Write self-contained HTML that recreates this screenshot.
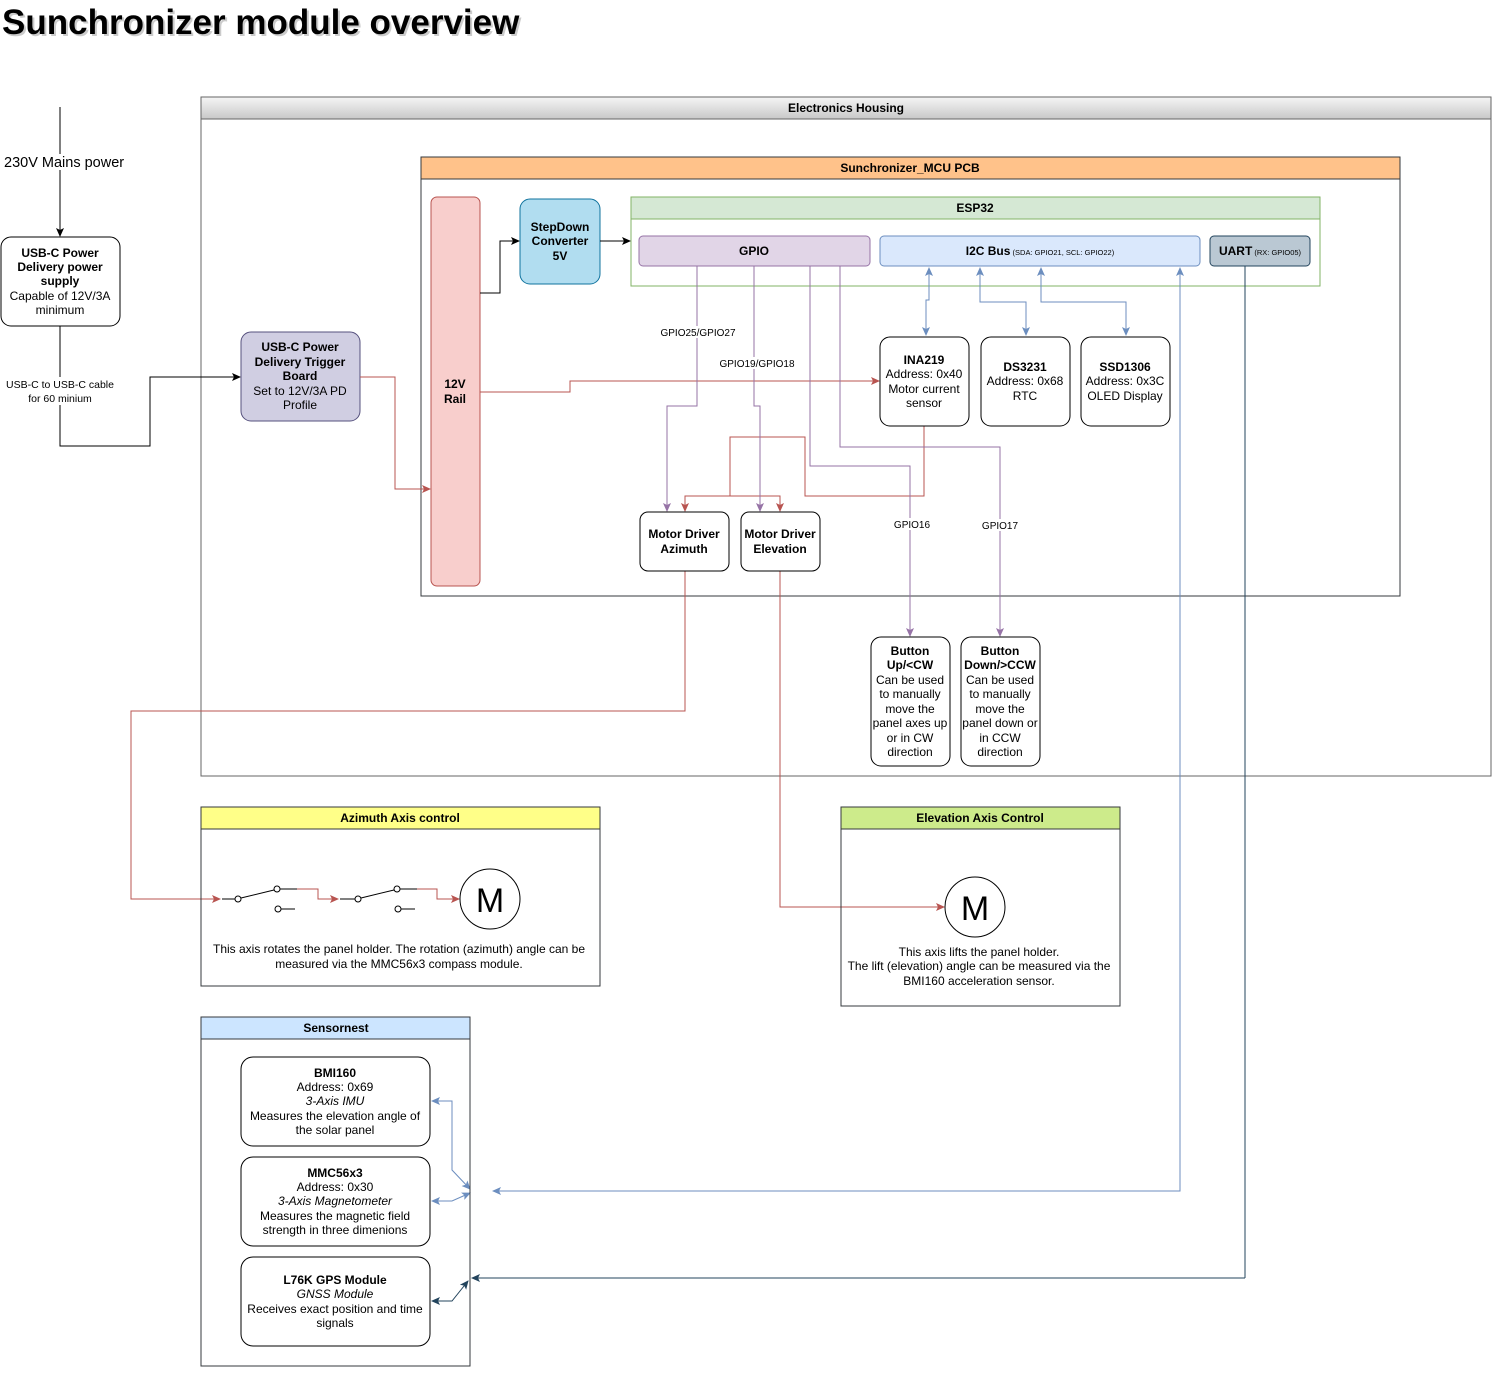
<!DOCTYPE html>
<html><head><meta charset="utf-8"><style>
html,body{margin:0;padding:0;background:#fff}
svg{display:block;font-family:"Liberation Sans",sans-serif}
</style></head><body>
<svg width="1504" height="1378" viewBox="0 0 1504 1378" xmlns="http://www.w3.org/2000/svg">
<defs>
<marker id="ak" markerWidth="10" markerHeight="10" refX="8" refY="5" orient="auto" markerUnits="userSpaceOnUse"><path d="M0,1 L9,5 L0,9 L2,5z" fill="#000"/></marker>
<marker id="ar" markerWidth="10" markerHeight="10" refX="8" refY="5" orient="auto" markerUnits="userSpaceOnUse"><path d="M0,1 L9,5 L0,9 L2,5z" fill="#b85450"/></marker>
<marker id="ap" markerWidth="10" markerHeight="10" refX="8" refY="5" orient="auto" markerUnits="userSpaceOnUse"><path d="M0,1 L9,5 L0,9 L2,5z" fill="#9673a6"/></marker>
<marker id="ab" markerWidth="10" markerHeight="10" refX="8" refY="5" orient="auto-start-reverse" markerUnits="userSpaceOnUse"><path d="M0,1 L9,5 L0,9 L2,5z" fill="#6c8ebf"/></marker>
<marker id="ad" markerWidth="10" markerHeight="10" refX="8" refY="5" orient="auto-start-reverse" markerUnits="userSpaceOnUse"><path d="M0,1 L9,5 L0,9 L2,5z" fill="#23445d"/></marker>
<linearGradient id="gh" x1="0" y1="0" x2="0" y2="1"><stop offset="0" stop-color="#f5f5f5"/><stop offset="1" stop-color="#c8c8c8"/></linearGradient>
</defs>

<text x="4" y="36" font-size="35" font-weight="bold" fill="#999" opacity="0.5">Sunchronizer module overview</text>
<text x="2" y="34" font-size="35" font-weight="bold" fill="#000">Sunchronizer module overview</text>

<!-- Electronics Housing -->
<rect x="201" y="97" width="1290" height="679" fill="#fff" stroke="#666"/>
<rect x="201" y="97" width="1290" height="22" fill="url(#gh)" stroke="#666"/>
<text x="846" y="112" font-size="12" font-weight="bold" text-anchor="middle">Electronics Housing</text>

<!-- MCU PCB -->
<rect x="421" y="157" width="979" height="439" fill="#fff" stroke="#36393d"/>
<rect x="421" y="157" width="979" height="22" fill="#ffc28a" stroke="#36393d"/>
<text x="910" y="172" font-size="12" font-weight="bold" text-anchor="middle">Sunchronizer_MCU PCB</text>

<!-- ESP32 -->
<rect x="631" y="197" width="689" height="89" fill="#fff" stroke="#82b366"/>
<rect x="631" y="197" width="689" height="22" fill="#d5e8d4" stroke="#82b366"/>
<text x="975" y="212" font-size="12" font-weight="bold" text-anchor="middle">ESP32</text>

<rect x="639" y="236" width="231" height="30" rx="4" fill="#e1d5e7" stroke="#9673a6"/>
<text x="754" y="255" font-size="12" font-weight="bold" text-anchor="middle">GPIO</text>
<rect x="880" y="236" width="320" height="30" rx="4" fill="#dae8fc" stroke="#6c8ebf"/>
<text x="1040" y="255" font-size="12" text-anchor="middle"><tspan font-weight="bold">I2C Bus</tspan><tspan font-size="7.5"> (SDA: GPIO21, SCL: GPIO22)</tspan></text>
<rect x="1210" y="236" width="100" height="30" rx="4" fill="#bac8d3" stroke="#23445d"/>
<text x="1260" y="255" font-size="12" text-anchor="middle"><tspan font-weight="bold">UART</tspan><tspan font-size="7.5"> (RX: GPIO05)</tspan></text>

<!-- 12V rail -->
<rect x="431" y="197" width="49" height="389" rx="6" fill="#f8cecc" stroke="#b85450"/>
<text x="455" y="388" font-size="12" font-weight="bold" text-anchor="middle">12V</text>
<text x="455" y="403" font-size="12" font-weight="bold" text-anchor="middle">Rail</text>

<!-- StepDown -->
<rect x="520" y="199" width="80" height="85" rx="10" fill="#b1ddf0" stroke="#10739e"/>
<text x="560" y="231" font-size="12" font-weight="bold" text-anchor="middle">StepDown</text>
<text x="560" y="245" font-size="12" font-weight="bold" text-anchor="middle">Converter</text>
<text x="560" y="260" font-size="12" font-weight="bold" text-anchor="middle">5V</text>

<!-- black wires -->
<path d="M60,107 V236" stroke="#000" fill="none" marker-end="url(#ak)"/>
<path d="M60,326 V446 H150 V377 H240" stroke="#000" fill="none" marker-end="url(#ak)"/>
<path d="M480,293 H500 V241 H519" stroke="#000" fill="none" marker-end="url(#ak)"/>
<path d="M600,241 H630" stroke="#000" fill="none" marker-end="url(#ak)"/>

<!-- Left boxes -->
<rect x="3" y="154" width="126" height="16" fill="#fff"/>
<text x="4" y="167" font-size="14.5">230V Mains power</text>
<rect x="1" y="237" width="119" height="89" rx="10" fill="#fff" stroke="#000"/>
<text x="60" y="257" font-size="12" font-weight="bold" text-anchor="middle">USB-C Power</text>
<text x="60" y="271" font-size="12" font-weight="bold" text-anchor="middle">Delivery power</text>
<text x="60" y="285" font-size="12" font-weight="bold" text-anchor="middle">supply</text>
<text x="60" y="300" font-size="12" text-anchor="middle">Capable of 12V/3A</text>
<text x="60" y="314" font-size="12" text-anchor="middle">minimum</text>
<rect x="3" y="377" width="115" height="28" fill="#fff"/>
<text x="60" y="388" font-size="10.5" text-anchor="middle">USB-C to USB-C cable</text>
<text x="60" y="402" font-size="10.5" text-anchor="middle">for 60 minium</text>

<rect x="241" y="332" width="119" height="89" rx="10" fill="#d0cee2" stroke="#56517e"/>
<text x="300" y="351" font-size="12" font-weight="bold" text-anchor="middle">USB-C Power</text>
<text x="300" y="366" font-size="12" font-weight="bold" text-anchor="middle">Delivery Trigger</text>
<text x="300" y="380" font-size="12" font-weight="bold" text-anchor="middle">Board</text>
<text x="300" y="395" font-size="12" text-anchor="middle">Set to 12V/3A PD</text>
<text x="300" y="409" font-size="12" text-anchor="middle">Profile</text>

<!-- red wires -->
<g stroke="#b85450" fill="none">
<path d="M360,377 H395 V489 H430" marker-end="url(#ar)"/>
<path d="M480,392 H570 V381 H879" marker-end="url(#ar)"/>
<path d="M924,426 V496 H805 V437 H730 V496 H685 V511" marker-end="url(#ar)"/>
<path d="M730,496 H780 V511" marker-end="url(#ar)"/>
<path d="M685,571 V711 H131 V899 H220" marker-end="url(#ar)"/>
<path d="M780,571 V907 H944" marker-end="url(#ar)"/>
<path d="M297,889 H318 V899 H338" marker-end="url(#ar)"/>
<path d="M417,889 H437 V899 H459" marker-end="url(#ar)"/>
</g>

<!-- purple GPIO wires -->
<g stroke="#9673a6" fill="none">
<path d="M697,266 V406 H667 V511" marker-end="url(#ap)"/>
<path d="M754,266 V406 H760 V511" marker-end="url(#ap)"/>
<path d="M810,266 V466 H910 V636" marker-end="url(#ap)"/>
<path d="M840,266 V447 H1000 V636" marker-end="url(#ap)"/>
</g>
<g font-size="10" text-anchor="middle">
<rect x="660" y="326" width="77" height="12" fill="#fff"/><text x="698" y="336">GPIO25/GPIO27</text>
<rect x="719" y="357" width="77" height="12" fill="#fff"/><text x="757" y="367">GPIO19/GPIO18</text>
<rect x="892" y="518" width="41" height="12" fill="#fff"/><text x="912" y="528">GPIO16</text>
<rect x="980" y="519" width="41" height="12" fill="#fff"/><text x="1000" y="529">GPIO17</text>
</g>

<!-- I2C blue -->
<g stroke="#6c8ebf" fill="none">
<path d="M929,268 V300 H926 V335" marker-start="url(#ab)" marker-end="url(#ab)"/>
<path d="M980,268 V302 H1026 V335" marker-start="url(#ab)" marker-end="url(#ab)"/>
<path d="M1041,268 V302 H1126 V335" marker-start="url(#ab)" marker-end="url(#ab)"/>
<path d="M1180,268 V1191 H493" marker-start="url(#ab)" marker-end="url(#ab)"/>
<path d="M432,1101 H452 V1170 L470,1189" marker-start="url(#ab)" marker-end="url(#ab)"/>
<path d="M432,1201 H452 L470,1193" marker-start="url(#ab)" marker-end="url(#ab)"/>
</g>
<g stroke="#23445d" fill="none">
<path d="M1245,1278 V266" />
<path d="M1245,1278 H472" marker-end="url(#ad)"/>
<path d="M432,1301 H452 L468,1281" marker-start="url(#ad)" marker-end="url(#ad)"/>
</g>

<!-- I2C devices -->
<g font-size="12" text-anchor="middle">
<rect x="880" y="337" width="89" height="89" rx="10" fill="#fff" stroke="#000"/>
<text x="924" y="364" font-weight="bold">INA219</text><text x="924" y="378">Address: 0x40</text><text x="924" y="393">Motor current</text><text x="924" y="407">sensor</text>
<rect x="981" y="337" width="89" height="89" rx="10" fill="#fff" stroke="#000"/>
<text x="1025" y="371" font-weight="bold">DS3231</text><text x="1025" y="385">Address: 0x68</text><text x="1025" y="400">RTC</text>
<rect x="1081" y="337" width="89" height="89" rx="10" fill="#fff" stroke="#000"/>
<text x="1125" y="371" font-weight="bold">SSD1306</text><text x="1125" y="385">Address: 0x3C</text><text x="1125" y="400">OLED Display</text>

<rect x="640" y="512" width="89" height="59" rx="8" fill="#fff" stroke="#000"/>
<text x="684" y="538" font-weight="bold">Motor Driver</text><text x="684" y="553" font-weight="bold">Azimuth</text>
<rect x="741" y="512" width="79" height="59" rx="8" fill="#fff" stroke="#000"/>
<text x="780" y="538" font-weight="bold">Motor Driver</text><text x="780" y="553" font-weight="bold">Elevation</text>

<rect x="871" y="637" width="79" height="129" rx="10" fill="#fff" stroke="#000"/>
<text x="910" y="655" font-weight="bold">Button</text><text x="910" y="669" font-weight="bold">Up/&lt;CW</text>
<text x="910" y="684">Can be used</text><text x="910" y="698">to manually</text><text x="910" y="713">move the</text><text x="910" y="727">panel axes up</text><text x="910" y="742">or in CW</text><text x="910" y="756">direction</text>
<rect x="961" y="637" width="79" height="129" rx="10" fill="#fff" stroke="#000"/>
<text x="1000" y="655" font-weight="bold">Button</text><text x="1000" y="669" font-weight="bold">Down/&gt;CCW</text>
<text x="1000" y="684">Can be used</text><text x="1000" y="698">to manually</text><text x="1000" y="713">move the</text><text x="1000" y="727">panel down or</text><text x="1000" y="742">in CCW</text><text x="1000" y="756">direction</text>
</g>

<!-- Azimuth -->
<rect x="201" y="807" width="399" height="179" fill="none" stroke="#36393d"/>
<rect x="201" y="807" width="399" height="22" fill="#ffff88" stroke="#36393d"/>
<text x="400" y="822" font-size="12" font-weight="bold" text-anchor="middle">Azimuth Axis control</text>
<g stroke="#000" fill="#fff">
<path d="M222,899 H235 M241,898 L274,890 M280,889 H297 M281,909 H295"/>
<circle cx="238" cy="899" r="3"/><circle cx="277" cy="889" r="3"/><circle cx="278" cy="909" r="3"/>
<path d="M340,899 H355 M361,898 L394,890 M400,889 H417 M401,909 H415"/>
<circle cx="358" cy="899" r="3"/><circle cx="397" cy="889" r="3"/><circle cx="398" cy="909" r="3"/>
<circle cx="490" cy="899" r="30"/>
<circle cx="975" cy="907" r="30"/>
</g>
<text x="490" y="912" font-size="34" text-anchor="middle">M</text>
<g font-size="12" text-anchor="middle">
<text x="399" y="953">This axis rotates the panel holder. The rotation (azimuth) angle can be</text>
<text x="399" y="968">measured via the MMC56x3 compass module.</text>
</g>

<!-- Elevation -->
<rect x="841" y="807" width="279" height="199" fill="none" stroke="#36393d"/>
<rect x="841" y="807" width="279" height="22" fill="#cdeb8b" stroke="#36393d"/>
<text x="980" y="822" font-size="12" font-weight="bold" text-anchor="middle">Elevation Axis Control</text>
<text x="975" y="920" font-size="34" text-anchor="middle">M</text>
<g font-size="12" text-anchor="middle">
<text x="979" y="956">This axis lifts the panel holder.</text>
<text x="979" y="970">The lift (elevation) angle can be measured via the</text>
<text x="979" y="985">BMI160 acceleration sensor.</text>
</g>

<!-- Sensornest -->
<rect x="201" y="1017" width="269" height="349" fill="none" stroke="#36393d"/>
<rect x="201" y="1017" width="269" height="22" fill="#cce5ff" stroke="#36393d"/>
<text x="336" y="1032" font-size="12" font-weight="bold" text-anchor="middle">Sensornest</text>
<g font-size="12" text-anchor="middle">
<rect x="241" y="1057" width="189" height="89" rx="12" fill="#fff" stroke="#000"/>
<text x="335" y="1077" font-weight="bold">BMI160</text><text x="335" y="1091">Address: 0x69</text><text x="335" y="1105" font-style="italic">3-Axis IMU</text><text x="335" y="1120">Measures the elevation angle of</text><text x="335" y="1134">the solar panel</text>
<rect x="241" y="1157" width="189" height="89" rx="12" fill="#fff" stroke="#000"/>
<text x="335" y="1177" font-weight="bold">MMC56x3</text><text x="335" y="1191">Address: 0x30</text><text x="335" y="1205" font-style="italic">3-Axis Magnetometer</text><text x="335" y="1220">Measures the magnetic field</text><text x="335" y="1234">strength in three dimenions</text>
<rect x="241" y="1257" width="189" height="89" rx="12" fill="#fff" stroke="#000"/>
<text x="335" y="1284" font-weight="bold">L76K GPS Module</text><text x="335" y="1298" font-style="italic">GNSS Module</text><text x="335" y="1313">Receives exact position and time</text><text x="335" y="1327">signals</text>
</g>
</svg>
</body></html>
